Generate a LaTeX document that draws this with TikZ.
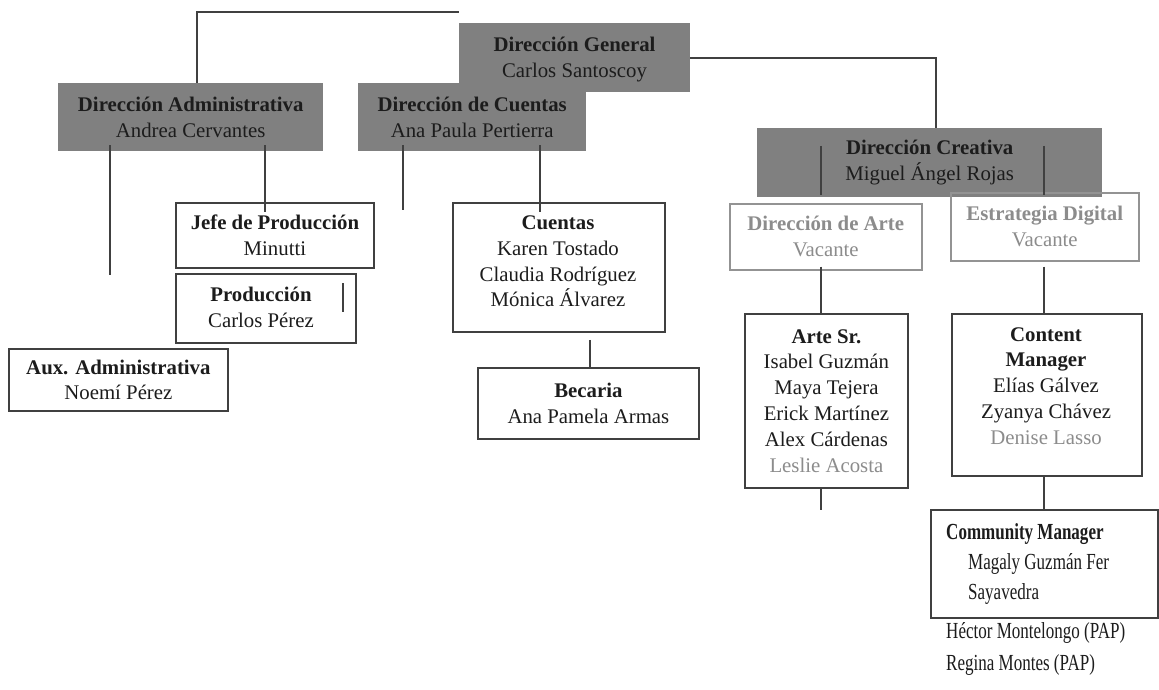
\documentclass[tikz,border=0pt]{standalone}
\usepackage{fontspec}
\setmainfont{Liberation Serif}
\newfontfamily\condfont{Liberation Serif}[FakeStretch=0.74]
\usetikzlibrary{calc}
\definecolor{hdr}{HTML}{808080}
\definecolor{ln}{HTML}{404040}
\definecolor{ink}{HTML}{1C1C1C}
\definecolor{soft}{HTML}{8C8C8C}
\definecolor{softln}{HTML}{939393}
\begin{document}
\begin{tikzpicture}[x=1pt,y=-1pt,
  every node/.style={font=\fontsize{20.8}{25.8}\selectfont, text=ink},
  hbox/.style={fill=hdr, draw=none, inner sep=0pt, align=center, anchor=north west},
  wbox/.style={draw=ln, line width=1.8pt, fill=white, inner sep=0pt, align=center, anchor=north west},
  gbox/.style={draw=softln, line width=1.5pt, inner sep=0pt, align=center, anchor=north west, text=soft},
  txt/.style={inner sep=0pt, align=center},
  conn/.style={draw=ln, line width=1.7pt},
  cmtext/.style={anchor=base west, inner sep=0pt, font=\condfont\fontsize{23}{30}\selectfont},
  ]
\fill[white] (0,0) rectangle (1159,690);
\useasboundingbox (0,0) rectangle (1159,690);

% header boxes
\node[hbox, minimum width=231, minimum height=69] (dg) at (459,23) {};
\node[txt] (dg-t) at (574.5,59.5) {\textbf{Dirección General}\\Carlos Santoscoy};
\node[hbox, minimum width=265, minimum height=68] (adm) at (58,83)
  {\textbf{Dirección Administrativa}\\Andrea Cervantes};
\node[hbox, minimum width=228, minimum height=68] (cta) at (358,83)
  {\textbf{Dirección de Cuentas}\\Ana Paula Pertierra};
\node[hbox, minimum width=345, minimum height=69] (dc) at (757,128)
  {\textbf{Dirección Creativa}\\Miguel Ángel Rojas};

% white boxes
\node[wbox, minimum width=198, minimum height=65] (jefe) at (175,202)
  {\textbf{Jefe de Producción}\\Minutti};
\node[wbox, minimum width=180, minimum height=69] (prod) at (175,273) {};
\node[txt] (prod-t) at (261,307.5) {\textbf{Producción}\\Carlos Pérez};
\node[wbox, minimum width=219, minimum height=62] (aux) at (8,348)
  {\textbf{Aux. Administrativa}\\Noemí Pérez};
\node[wbox, minimum width=212, minimum height=129] (cuentas) at (452,202) {};
\node[txt] (cuentas-t) at (558,261.5)
  {\textbf{Cuentas}\\Karen Tostado\\Claudia Rodríguez\\Mónica Álvarez};
\node[wbox, minimum width=221, minimum height=71] (becaria) at (477,367)
  {\textbf{Becaria}\\Ana Pamela Armas};
\node[gbox, minimum width=192, minimum height=66] (arte) at (729,203)
  {\textbf{Dirección de Arte}\\Vacante};
\node[gbox, minimum width=188, minimum height=68] (ed) at (950,192)
  {\textbf{Estrategia Digital}\\Vacante};
\node[wbox, minimum width=163, minimum height=174] (artesr) at (744,313)
  {\textbf{Arte Sr.}\\Isabel Guzmán\\Maya Tejera\\Erick Martínez\\Alex Cárdenas\\\textcolor{soft}{Leslie Acosta}};
\node[wbox, minimum width=190, minimum height=162] (cm) at (951,313) {};
\node[txt] (cm-t) at (1046,386)
  {\textbf{Content}\\\textbf{Manager}\\Elías Gálvez\\Zyanya Chávez\\\textcolor{soft}{Denise Lasso}};
\node[wbox, minimum width=227, minimum height=108] (comm) at (930,509) {};

% community manager texts
\node[cmtext] (cm1) at (946,539) {\textbf{Community Manager}};
\node[cmtext] (cm2) at (968,569) {Magaly Guzmán Fer};
\node[cmtext] (cm3) at (968,599) {Sayavedra};
\node[cmtext] (cm4) at (946,638) {Héctor Montelongo (PAP)};
\node[cmtext] (cm5) at (946,670) {Regina Montes (PAP)};

% connectors
\draw[conn] ($(adm.north west)+(139,0)$) |- ($(dg.north west)+(0,-11)$);
\draw[conn] ($(dg.north east)+(0,35)$) -| ($(dc.north west)+(179,0)$);
\draw[conn] ($(adm.south west)+(52,-6)$) -- ($(adm.south west)+(52,124)$);
\draw[conn] ($(adm.south west)+(207,-6)$) -- ($(jefe.north west)+(90,10)$);
\draw[conn] ($(cta.south west)+(45,-6)$) -- ($(cta.south west)+(45,59)$);
\draw[conn] ($(cta.south west)+(182,-6)$) -- ($(cuentas.north west)+(88,10)$);
\draw[conn] ($(cuentas.south west)+(138,7)$) -- ($(becaria.north west)+(113,0)$);
\draw[conn] ($(prod.north west)+(168,10)$) -- ($(prod.north west)+(168,39)$);
\draw[conn] ($(dc.north west)+(64,18)$) -- ($(dc.south west)+(64,-2)$);
\draw[conn] ($(dc.north west)+(287,18)$) -- ($(dc.south west)+(287,-2)$);
\draw[conn] ($(arte.south west)+(92,-4)$) -- ($(artesr.north west)+(77,0)$);
\draw[conn] ($(artesr.south west)+(77,0)$) -- ($(artesr.south west)+(77,21)$);
\draw[conn] ($(ed.south west)+(94,5)$) -- ($(cm.north west)+(93,0)$);
\draw[conn] ($(cm.south west)+(93,0)$) -- ($(comm.north west)+(114,0)$);
\end{tikzpicture}
\end{document}
